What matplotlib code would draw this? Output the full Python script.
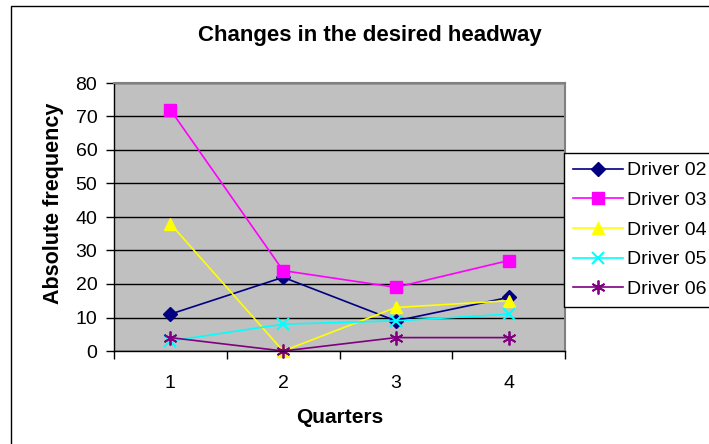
import matplotlib
matplotlib.use("Agg")
import matplotlib.pyplot as plt
from matplotlib.patches import Rectangle

plt.rcParams['font.family'] = ['Liberation Sans', 'DejaVu Sans']

quarters = [1, 2, 3, 4]
quarter_labels = ["1", "2", "3", "4"]
driver02 = [11, 22, 9, 16]
driver03 = [72, 24, 19, 27]
driver04 = [38, 0, 13, 15]
driver05 = [3, 8, 9, 11]
driver06 = [4, 0, 4, 4]
series_names = ["Driver 02", "Driver 03", "Driver 04", "Driver 05", "Driver 06"]
y_ticks = [0, 10, 20, 30, 40, 50, 60, 70, 80]

W, H = 709, 444
fig = plt.figure(figsize=(W / 100, H / 100), dpi=100)
fig.patch.set_facecolor('white')

# outer chart border (cut at right and bottom)
fig.patches.append(Rectangle((11 / W, -0.05), 1.2, (444 - 6) / H + 0.05,
                             transform=fig.transFigure, fill=False,
                             edgecolor='black', linewidth=1.0))

ax = fig.add_axes([114 / W, (H - 351) / H, (565 - 114) / W, (351 - 83) / H])
ax.set_facecolor('#C0C0C0')

styles = [
    dict(color='#000080', marker='D', markersize=7),
    dict(color='#FF00FF', marker='s', markersize=9),
    dict(color='#FFFF00', marker='^', markersize=9),
    dict(color='#00FFFF', marker='x', markersize=8, markeredgewidth=1.5),
    dict(color='#800080', marker=(6, 2, 0), markersize=10, markeredgewidth=1.3),
]
data = [driver02, driver03, driver04, driver05, driver06]
lines = []
for name, vals, st in zip(series_names, data, styles):
    ln, = ax.plot(quarters, vals, linewidth=1.2, label=name, clip_on=False, **st)
    lines.append(ln)

ax.set_xlim(0.5, 4.5)
ax.set_ylim(0, 80)
ax.set_yticks(y_ticks)
ax.set_yticklabels([str(t) for t in y_ticks], fontsize=14)
ax.yaxis.grid(True, color='black', linewidth=1.0)
ax.set_axisbelow(True)

ax.set_xticks(quarters)
ax.set_xticklabels(quarter_labels, fontsize=14)
ax.set_xticks([0.5, 1.5, 2.5, 3.5, 4.5], minor=True)
ax.tick_params(axis='x', which='major', length=0, pad=17)
ax.tick_params(axis='x', which='minor', length=6, width=1, direction='out', color='black')
ax.tick_params(axis='y', length=6, width=1, direction='out', color='black', pad=6)

for s in ['top', 'right']:
    ax.spines[s].set_color('#808080')
    ax.spines[s].set_linewidth(1.5)
ax.spines['left'].set_color('black')
ax.spines['bottom'].set_color('black')
ax.spines['left'].set_linewidth(1.0)
ax.spines['bottom'].set_linewidth(1.0)

ax.set_xlabel('Quarters', fontsize=15, fontweight='bold', va='center', ha='center')
ax.xaxis.set_label_coords(0.5, (351 - 417) / 268)
ax.set_ylabel('Absolute frequency', fontsize=15.5, fontweight='bold', va='center', ha='center')
ax.yaxis.set_label_coords((54 - 114) / 451, (351 - 203) / 268)

fig.text(370 / W, (H - 36) / H, 'Changes in the desired headway', ha='center', va='center',
         fontsize=16, fontweight='bold')

leg = fig.legend(handles=lines, loc='upper left', bbox_to_anchor=(564 / W, (H - 153) / H),
                 fontsize=14, frameon=True, fancybox=False, edgecolor='black',
                 framealpha=1, borderpad=0.45, labelspacing=0.62, handlelength=2.6,
                 handletextpad=0.2, borderaxespad=0)
leg.get_frame().set_linewidth(1.0)

fig.savefig('out.png', dpi=100)
